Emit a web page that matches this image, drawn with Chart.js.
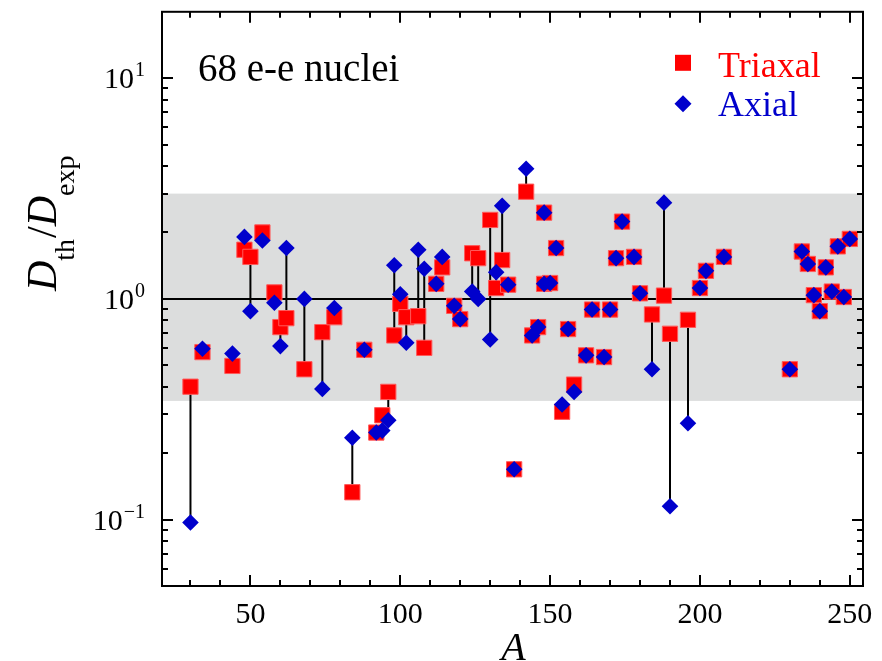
<!DOCTYPE html>
<html>
<head>
<meta charset="utf-8">
<script src="https://cdn.jsdelivr.net/npm/chart.js@4.4.0/dist/chart.umd.min.js"></script>
<style>
  html, body { margin: 0; padding: 0; background: #fff; }
</style>
</head>
<body>
<canvas id="chart" width="882" height="661"></canvas>
<script>
// mass number A of each e-e nucleus
const massNumbers = [
  30, 34, 44, 48, 50, 54, 58, 60, 62, 68,
  74, 78, 84, 88, 92, 94, 96, 98, 100, 102,
  106, 108, 112, 114, 118, 120, 124, 126, 130, 132,
  134, 136, 138, 142, 144, 146, 148, 148, 150, 152,
  154, 156, 158, 162, 164, 168, 170, 172, 174, 178,
  180, 184, 188, 190, 196, 200, 202, 208, 230, 234,
  236, 238, 240, 242, 244, 246, 248, 250
];
// D_th / D_exp, triaxial calculation
const triaxial = [
  0.40, 0.574, 0.497, 1.67, 1.55, 2.0, 1.07, 0.745, 0.818, 0.48,
  0.707, 0.826, 0.133, 0.588, 0.248, 0.297, 0.379, 0.683, 0.95, 0.826,
  0.835, 0.60, 1.17, 1.39, 0.93, 0.81, 1.61, 1.53, 2.28, 1.12,
  1.50, 1.16, 0.169, 3.06, 0.683, 0.745, 2.46, 1.17, 1.18, 1.70,
  0.308, 0.73, 0.409, 0.555, 0.895, 0.545, 0.895, 1.53, 2.24, 1.55,
  1.06, 0.85, 1.035, 0.695, 0.804, 1.12, 1.34, 1.55, 0.48, 1.64,
  1.44, 1.04, 0.88, 1.39, 1.08, 1.73, 1.02, 1.87
];
// D_th / D_exp, axial calculation
const axial = [
  0.097, 0.594, 0.565, 1.91, 0.88, 1.84, 0.96, 0.611, 1.70, 1.0,
  0.391, 0.91, 0.235, 0.588, 0.248, 0.253, 0.282, 1.42, 1.05, 0.633,
  1.67, 1.37, 1.17, 1.55, 0.93, 0.81, 1.08, 1.0, 0.655, 1.32,
  2.64, 1.16, 0.169, 3.89, 0.683, 0.745, 2.46, 1.17, 1.18, 1.70,
  0.332, 0.73, 0.379, 0.555, 0.895, 0.545, 0.895, 1.53, 2.24, 1.55,
  1.06, 0.48, 2.73, 0.115, 0.273, 1.12, 1.34, 1.55, 0.48, 1.64,
  1.44, 1.04, 0.88, 1.39, 1.08, 1.73, 1.02, 1.87
];

const xMajorTicks = [50, 100, 150, 200, 250];
const xMinorTicks = [30, 40, 60, 70, 80, 90, 110, 120, 130, 140, 160, 170, 180, 190, 210, 220, 230, 240];
const yMajorTicks = [0.1, 1, 10];
const yTickExponents = ['-1', '0', '1'];
const yMinorTicks = [0.06, 0.07, 0.08, 0.09, 0.2, 0.3, 0.4, 0.5, 0.6, 0.7, 0.8, 0.9,
                     2, 3, 4, 5, 6, 7, 8, 9];
const band = [0.345, 3];     // shaded agreement region
const refLine = 1;

const RED = '#ff0000';
const BLUE = '#0000cc';
const SERIF = '"Liberation Serif", "Times New Roman", serif';

// vertical segments joining the two calculations for each nucleus
const connectors = [];
massNumbers.forEach((a, i) => {
  connectors.push({ x: a, y: triaxial[i] }, { x: a, y: axial[i] }, { x: a, y: null });
});

const decorations = {
  id: 'decorations',
  beforeDatasetsDraw(chart) {
    const { ctx, chartArea: area, scales: { y } } = chart;
    ctx.save();
    ctx.fillStyle = '#dcdddd';
    const top = y.getPixelForValue(band[1]);
    const bottom = y.getPixelForValue(band[0]);
    ctx.fillRect(area.left, top, area.right - area.left, bottom - top);
    ctx.strokeStyle = '#000';
    ctx.lineWidth = 2;
    const y1 = y.getPixelForValue(refLine);
    ctx.beginPath();
    ctx.moveTo(area.left, y1);
    ctx.lineTo(area.right, y1);
    ctx.stroke();
    ctx.restore();
  },
  afterDatasetsDraw(chart) {
    const { ctx, chartArea: area, scales: { x, y } } = chart;
    ctx.save();
    ctx.strokeStyle = '#000';
    ctx.lineWidth = 2;
    ctx.strokeRect(area.left, area.top, area.right - area.left, area.bottom - area.top);

    ctx.beginPath();
    const xTick = (v, len) => {
      const px = Math.round(x.getPixelForValue(v));
      ctx.moveTo(px, area.bottom); ctx.lineTo(px, area.bottom - len);
      ctx.moveTo(px, area.top); ctx.lineTo(px, area.top + len);
    };
    const yTick = (v, len) => {
      const py = Math.round(y.getPixelForValue(v));
      ctx.moveTo(area.left, py); ctx.lineTo(area.left + len, py);
      ctx.moveTo(area.right, py); ctx.lineTo(area.right - len, py);
    };
    xMajorTicks.forEach(v => xTick(v, 11));
    xMinorTicks.forEach(v => xTick(v, 6));
    yMajorTicks.forEach(v => yTick(v, 11));
    yMinorTicks.forEach(v => yTick(v, 6));
    ctx.stroke();

    // tick labels
    ctx.fillStyle = '#000';
    ctx.font = '30px ' + SERIF;
    ctx.textAlign = 'center';
    ctx.textBaseline = 'alphabetic';
    xMajorTicks.forEach(v => ctx.fillText(String(v), x.getPixelForValue(v), area.bottom + 37));

    yMajorTicks.forEach((v, i) => {
      const py = y.getPixelForValue(v);
      ctx.font = '20px ' + SERIF;
      const sup = yTickExponents[i].replace('-', '\u2212');
      const supW = ctx.measureText(sup).width;
      ctx.textAlign = 'right';
      const right = area.left - 17;
      ctx.fillText(sup, right, py - 2);
      ctx.font = '30px ' + SERIF;
      ctx.fillText('10', right - supW - 1, py + 10);
    });
    ctx.restore();
  },
  afterDraw(chart) {
    const { ctx, chartArea: area } = chart;
    ctx.save();
    ctx.fillStyle = '#000';
    ctx.textBaseline = 'alphabetic';

    // annotation
    ctx.textAlign = 'left';
    ctx.font = '39px ' + SERIF;
    ctx.fillText('68 e-e nuclei', area.left + 36, area.top + 69);

    // legend
    const lx = area.right - 180;
    ctx.fillStyle = RED;
    ctx.fillRect(lx - 8, area.top + 43, 16, 16);
    ctx.font = '36px ' + SERIF;
    ctx.fillText('Triaxal', lx + 35, area.top + 65);
    ctx.fillStyle = BLUE;
    const dy = area.top + 92;
    ctx.beginPath();
    ctx.moveTo(lx - 8.5, dy); ctx.lineTo(lx, dy - 8.5); ctx.lineTo(lx + 8.5, dy); ctx.lineTo(lx, dy + 8.5);
    ctx.closePath();
    ctx.fill();
    ctx.fillText('Axial', lx + 35, area.top + 104);

    // x title
    ctx.fillStyle = '#000';
    ctx.textAlign = 'center';
    ctx.font = 'italic 40px ' + SERIF;
    ctx.fillText('A', (area.left + area.right) / 2 + 1, area.bottom + 74);

    // y title, rotated
    ctx.translate(56, 291);
    ctx.rotate(-Math.PI / 2);
    ctx.textAlign = 'left';
    let cx = 0;
    const part = (txt, font, off, gap) => {
      ctx.font = font;
      ctx.fillText(txt, cx, off);
      cx += ctx.measureText(txt).width + (gap || 0);
    };
    part('D', 'italic 42px ' + SERIF, 0, 0);
    part('th', '28px ' + SERIF, 18, 1);
    part('/', '42px ' + SERIF, 0, 0);
    part('D', 'italic 42px ' + SERIF, 0, 0);
    part('exp', '28px ' + SERIF, 18, 0);
    ctx.restore();
  }
};

new Chart(document.getElementById('chart'), {
  type: 'scatter',
  data: {
    datasets: [
      {
        label: 'Axial',
        data: massNumbers.map((a, i) => ({ x: a, y: axial[i] })),
        pointStyle: 'rectRot',
        pointRadius: 8.3,
        pointBackgroundColor: BLUE,
        pointBorderColor: BLUE,
        pointBorderWidth: 0,
        order: 0
      },
      {
        label: 'Triaxal',
        data: massNumbers.map((a, i) => ({ x: a, y: triaxial[i] })),
        pointStyle: 'rect',
        pointRadius: 10.8,
        pointBackgroundColor: RED,
        pointBorderColor: '#ff5a5a',
        pointBorderWidth: 1,
        order: 1
      },
      {
        label: 'connectors',
        data: connectors,
        showLine: true,
        spanGaps: false,
        borderColor: '#000',
        borderWidth: 2,
        pointRadius: 0,
        order: 2
      }
    ]
  },
  options: {
    responsive: false,
    animation: false,
    layout: { padding: { left: 162, right: 19, top: 11, bottom: 75 } },
    plugins: {
      legend: { display: false },
      tooltip: { enabled: false }
    },
    scales: {
      x: { type: 'linear', min: 20.5, max: 254.4, display: false },
      y: { type: 'logarithmic', min: 0.05, max: 20, display: false }
    }
  },
  plugins: [decorations]
});
</script>
</body>
</html>
